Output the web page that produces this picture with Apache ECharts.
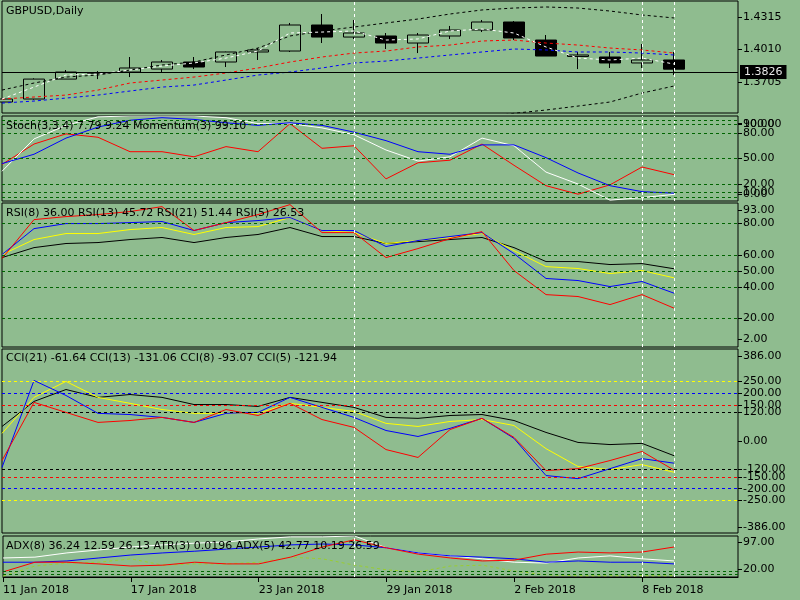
<!DOCTYPE html>
<html style="height: 100%">
  <head>
    <meta charset="UTF-8">
  </head>
  <body style="height: 100%; margin: 0; background: #8fbc8f">
    <div id="container" style="width: 800px; height: 600px"></div>
    <script src="https://cdn.jsdelivr.net/npm/echarts@6/dist/echarts.min.js"></script>
    <script>
    var dom = document.getElementById('container');
    var myChart = echarts.init(dom, null, { renderer: 'canvas' });

    // trading days (two empty slots on the right, like the terminal shift)
    var dates = ['11 Jan 2018','12 Jan 2018','15 Jan 2018','16 Jan 2018','17 Jan 2018','18 Jan 2018',
      '19 Jan 2018','22 Jan 2018','23 Jan 2018','24 Jan 2018','25 Jan 2018','26 Jan 2018',
      '29 Jan 2018','30 Jan 2018','31 Jan 2018','1 Feb 2018','2 Feb 2018','5 Feb 2018',
      '6 Feb 2018','7 Feb 2018','8 Feb 2018','9 Feb 2018','12 Feb 2018','13 Feb 2018'];
    var markerDates = ['26 Jan 2018', '8 Feb 2018', '9 Feb 2018'];

    // [open, close, low, high]
    var ohlc = [
      [1.3518, 1.3546, 1.3518, 1.3546],
      [1.3546, 1.3733, 1.3540, 1.3740],
      [1.3733, 1.3799, 1.3733, 1.3818],
      [1.3788, 1.3792, 1.3733, 1.3808],
      [1.3799, 1.3837, 1.3752, 1.3940],
      [1.3827, 1.3893, 1.3799, 1.3912],
      [1.3893, 1.3846, 1.3827, 1.3940],
      [1.3893, 1.3987, 1.3846, 1.3990],
      [1.3987, 1.4006, 1.3912, 1.4024],
      [1.3996, 1.4240, 1.3987, 1.4259],
      [1.4240, 1.4127, 1.4071, 1.4343],
      [1.4127, 1.4165, 1.4109, 1.4287],
      [1.4137, 1.4071, 1.4015, 1.4165],
      [1.4071, 1.4146, 1.3977, 1.4165],
      [1.4137, 1.4193, 1.4109, 1.4231],
      [1.4193, 1.4268, 1.4174, 1.4287],
      [1.4268, 1.4118, 1.4099, 1.4277],
      [1.4099, 1.3949, 1.3949, 1.4146],
      [1.3945, 1.3959, 1.3827, 1.3987],
      [1.3940, 1.3884, 1.3837, 1.3987],
      [1.3884, 1.3912, 1.3837, 1.4062],
      [1.3912, 1.3826, 1.3771, 1.3987]
    ];
    var lastPrice = 1.3826;
    var bandUpper = [1.3630, 1.3696, 1.3752, 1.3771, 1.3818, 1.3865, 1.3893, 1.3959, 1.4024, 1.4137, 1.4184,
      1.4221, 1.4259, 1.4296, 1.4343, 1.4381, 1.4399, 1.4409, 1.4399, 1.4371, 1.4334, 1.4306];
    var bandLower = [1.3380, 1.3370, 1.3385, 1.3400, 1.3395, 1.3390, 1.3395, 1.3385, 1.3370, 1.3330, 1.3320,
      1.3330, 1.3340, 1.3350, 1.3355, 1.3370, 1.3412, 1.3443, 1.3480, 1.3518, 1.3602, 1.3668];
    var maWhite = [1.3546, 1.3658, 1.3771, 1.3780, 1.3818, 1.3855, 1.3884, 1.3930, 1.3996, 1.4165, 1.4174,
      1.4184, 1.4099, 1.4109, 1.4184, 1.4202, 1.4165, 1.4034, 1.3930, 1.3912, 1.3930, 1.3874];
    var maRed = [1.3546, 1.3565, 1.3583, 1.3630, 1.3696, 1.3724, 1.3752, 1.3790, 1.3837, 1.3893, 1.3940,
      1.3977, 1.3996, 1.4034, 1.4052, 1.4090, 1.4099, 1.4071, 1.4052, 1.4024, 1.4006, 1.3977];
    var maBlue = [1.3508, 1.3527, 1.3555, 1.3583, 1.3621, 1.3658, 1.3677, 1.3724, 1.3771, 1.3799, 1.3837,
      1.3884, 1.3902, 1.3930, 1.3959, 1.3987, 1.4015, 1.4006, 1.3987, 1.3987, 1.3977, 1.3959];

    var stochMain = [35, 73, 89, 99, 100, 100, 100, 98, 91, 91, 86, 78, 60, 47, 52, 74, 65, 34, 20, 1, 4, 7.79];
    var stochSignal = [44, 55, 74, 87, 95, 98, 96, 92, 89, 92, 89, 81, 71, 58, 55, 66, 66, 51, 33, 18, 11, 9.24];
    var momentum = [43, 67, 79, 75, 58, 58, 52, 64, 58, 91, 62, 65, 26, 45, 48, 67, 42, 18, 8, 19, 40, 31];

    var rsi5 = [57.9, 82.5, 84.4, 85.7, 87.6, 90.7, 75.6, 80.6, 85.7, 92.0, 74.3, 74.3, 58.5, 64.2, 70.5, 74.9,
      50.3, 35.1, 33.9, 28.8, 35.1, 26.53];
    var rsi8 = [60.4, 76.8, 80.0, 80.0, 80.6, 81.3, 75.6, 80.6, 81.9, 83.8, 75.6, 75.6, 65.5, 69.3, 71.8, 74.3,
      61.0, 45.3, 44.0, 40.2, 43.4, 36.0];
    var rsi13 = [60.4, 69.9, 73.7, 73.7, 76.2, 77.5, 73.1, 77.5, 78.1, 83.8, 75.6, 74.3, 67.4, 69.3, 71.2, 73.7,
      62.9, 52.8, 51.6, 48.4, 50.3, 45.72];
    var rsi21 = [58.5, 64.8, 67.4, 68.0, 69.9, 71.2, 68.0, 71.2, 73.1, 77.5, 71.8, 71.8, 67.4, 68.6, 69.9, 71.2,
      64.8, 56.0, 56.0, 54.1, 54.7, 51.44];

    var cci21 = [61, 166, 216, 183, 195, 183, 153, 153, 145, 183, 162, 141, 99, 95, 107, 111, 86, 36, -6, -15, -10, -61.64];
    var cci13 = [32, 183, 250, 183, 158, 132, 116, 116, 116, 158, 141, 124, 74, 61, 82, 90, 65, -32, -107, -120, -99, -131.06];
    var cci8 = [-111, 254, 191, 116, 111, 99, 78, 116, 120, 183, 141, 99, 44, 19, 53, 95, 11, -145, -158, -116, -74, -93.07];
    var cci5 = [-82, 162, 120, 78, 86, 99, 78, 132, 107, 158, 90, 57, -36, -69, 48, 95, 15, -124, -116, -82, -44, -121.94];

    var adxWhite = [45, 47, 57, 64, 71, 76, 80, 83, 90, 95, 95, 97, 69, 57, 50, 43, 35, 33, 45, 50, 43, 38];
    var adxBlue = [35, 35, 38, 45, 52, 57, 61, 66, 71, 76, 78, 76, 69, 57, 50, 47, 43, 35, 38, 35, 35, 31];
    var adxRed = [12, 35, 35, 31, 26, 28, 35, 31, 31, 47, 71, 88, 69, 54, 45, 38, 40, 54, 59, 57, 59, 71];
    var atr = [2, 26, 33, 35, 43, 28, 31, 31, 35, 47, 43, 28, 17, 12, 26, 28, 14, 5, 3, 3, 3, 3];

    // right-hand scale labels: where they sit and what they read
    var priceTickPos = [1.4315, 1.4010, 1.3705];
    var priceTickText = ['1.4315', '1.4010', '1.3705'];
    var stochTickPos = [96, 91, 90, 80, 50, 20, 10, 8, 5];
    var stochTickText = ['95.00', '100.00', '90.00', '80.00', '50.00', '20.00', '10.00', '0.00', '5.00'];
    var stochLevels = [95, 90, 80, 50, 20, 10, 5];
    var rsiTickPos = [88.6, 80, 60, 50, 40, 20, 6.7];
    var rsiTickText = ['93.00', '80.00', '60.00', '50.00', '40.00', '20.00', '2.00'];
    var rsiLevels = [80, 60, 50, 40, 20];
    var cciTickPos = [357, 250, 200, 150, 120, 0, -120, -150, -200, -250, -363];
    var cciTickText = ['386.00', '250.00', '200.00', '150.00', '120.00', '0.00', '-120.00', '-150.00',
      '-200.00', '-250.00', '-386.00'];
    var cciLevels = [250, 200, 150, 120, -120, -150, -200, -250];
    var cciLevelColors = ['#ffff00', '#0000ff', '#ff0000', '#000000', '#000000', '#ff0000', '#0000ff', '#ffff00'];
    var adxTickPos = [83, 18, 10];
    var adxTickText = ['97.00', '20.00', '10.00'];
    var adxLevels = [14, 7];

    var titles = ['GBPUSD,Daily',
      'Stoch(3,3,4) 7.79 9.24 Momentum(3) 99.10',
      'RSI(8) 36.00 RSI(13) 45.72 RSI(21) 51.44 RSI(5) 26.53',
      'CCI(21) -61.64 CCI(13) -131.06 CCI(8) -93.07 CCI(5) -121.94',
      'ADX(8) 36.24 12.59 26.13 ATR(3) 0.0196 ADX(5) 42.77 10.19 26.59'];

    var FONT = 'DejaVu Sans';
    var panes = [
      { top: 1, height: 112, min: 1.3415, max: 1.4465, pos: priceTickPos, text: priceTickText, titleTop: 6 },
      { top: 116, height: 85, min: 0, max: 100, pos: stochTickPos, text: stochTickText, titleTop: 121 },
      { top: 203, height: 144, min: 2, max: 93, pos: rsiTickPos, text: rsiTickText, titleTop: 208 },
      { top: 349, height: 184, min: -386, max: 386, pos: cciTickPos, text: cciTickText, titleTop: 353 },
      { top: 536, height: 41, min: 0, max: 97, pos: adxTickPos, text: adxTickText, titleTop: 541 }
    ];

    function showDay(i) { return i % 4 === 0 && i < 22; }

    var grid = [], xAxis = [], yAxis = [], title = [];
    panes.forEach(function (p, g) {
      grid.push({ left: 2, right: 62, top: p.top, height: p.height, show: true,
        borderColor: '#000', borderWidth: 1, backgroundColor: 'transparent' });
      var last = g === panes.length - 1;
      xAxis.push({
        type: 'category', gridIndex: g, data: dates, boundaryGap: false,
        show: last,
        axisLine: { show: true, lineStyle: { color: '#000' } },
        axisTick: { show: true, interval: showDay, length: 5, lineStyle: { color: '#000' } },
        axisLabel: { interval: showDay, align: 'left', margin: 8, color: '#000', fontFamily: FONT, fontSize: 11 },
        splitLine: { show: false }
      });
      yAxis.push({
        type: 'value', gridIndex: g, position: 'right', min: p.min, max: p.max,
        splitLine: { show: false },
        axisLine: { show: false },
        axisTick: { show: true, customValues: p.pos, length: 4, lineStyle: { color: '#000' } },
        axisLabel: {
          customValues: p.pos, margin: 5, color: '#000', fontFamily: FONT, fontSize: 11, hideOverlap: false,
          formatter: function (v) { var k = p.pos.indexOf(v); return k >= 0 ? p.text[k] : ''; }
        }
      });
      title.push({ text: titles[g], left: 6, top: p.titleTop, padding: 0,
        textStyle: { color: '#000', fontWeight: 'normal', fontFamily: FONT, fontSize: 11 } });
    });

    var vLines = markerDates.map(function (d) { return { xAxis: d }; });
    function marks(levels, colors, extra) {
      var data = vLines.slice();
      levels.forEach(function (v, k) {
        data.push({ yAxis: v, lineStyle: { color: colors ? colors[k] : '#006400', type: [3, 3], width: 1 } });
      });
      return {
        silent: true, symbol: ['none', 'none'], animation: false,
        label: { show: false },
        lineStyle: { color: '#ffffff', type: [3, 3], width: 1 },
        data: data.concat(extra || [])
      };
    }

    function line(data, color, g, dashed, mark) {
      var s = {
        type: 'line', data: data, xAxisIndex: g, yAxisIndex: g, symbol: 'none', silent: true,
        animation: false, lineStyle: { color: color, width: 1, type: dashed ? [3, 3] : 'solid' }
      };
      if (mark) s.markLine = mark;
      return s;
    }

    var priceMark = marks([], null, [{
      yAxis: lastPrice,
      lineStyle: { color: '#000', type: 'solid', width: 1 },
      label: { show: true, position: 'end', distance: 2, formatter: lastPrice.toFixed(4),
        backgroundColor: '#000', color: '#e8e8e8', fontFamily: FONT, fontSize: 11, padding: [2, 4, 1, 4] }
    }]);

    var series = [
      {
        type: 'candlestick', data: ohlc, xAxisIndex: 0, yAxisIndex: 0, barWidth: 22, silent: true,
        animation: false,
        itemStyle: { color: '#8fbc8f', color0: '#000', borderColor: '#000', borderColor0: '#000', borderWidth: 1 },
        markLine: priceMark
      },
      line(bandUpper, '#000', 0, true),
      line(bandLower, '#000', 0, true),
      line(maRed, '#ff0000', 0, true),
      line(maBlue, '#0000ff', 0, true),
      line(maWhite, '#ffffff', 0, true),

      line(momentum, '#ff0000', 1, false, marks(stochLevels)),
      line(stochMain, '#ffffff', 1, false),
      line(stochSignal, '#0000ff', 1, false),

      line(rsi21, '#000000', 2, false, marks(rsiLevels)),
      line(rsi13, '#ffff00', 2, false),
      line(rsi8, '#0000ff', 2, false),
      line(rsi5, '#ff0000', 2, false),

      line(cci21, '#000000', 3, false, marks(cciLevels, cciLevelColors)),
      line(cci13, '#ffff00', 3, false),
      line(cci8, '#0000ff', 3, false),
      line(cci5, '#ff0000', 3, false),

      line(atr, '#9acd32', 4, true, marks(adxLevels)),
      line(adxWhite, '#ffffff', 4, false),
      line(adxBlue, '#0000ff', 4, false),
      line(adxRed, '#ff0000', 4, false)
    ];

    var option = {
      backgroundColor: '#8fbc8f',
      animation: false,
      title: title,
      grid: grid,
      xAxis: xAxis,
      yAxis: yAxis,
      series: series
    };

    myChart.setOption(option);
    window.addEventListener('resize', myChart.resize);
    </script>
  </body>
</html>
